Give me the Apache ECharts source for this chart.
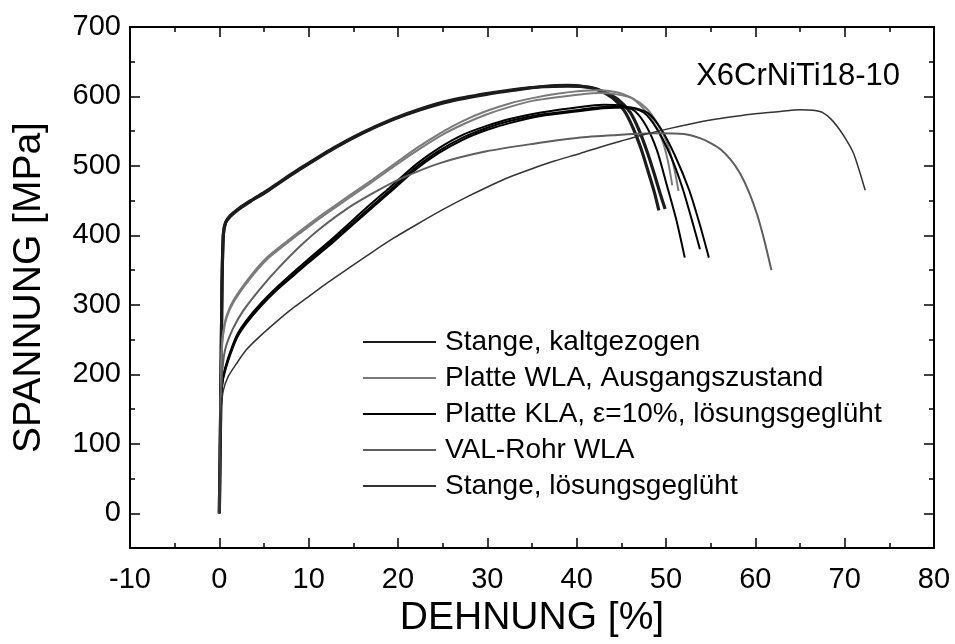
<!DOCTYPE html>
<html>
<head>
<meta charset="utf-8">
<script src="https://cdn.jsdelivr.net/npm/echarts@6/dist/echarts.min.js"></script>
<style>html,body{margin:0;padding:0;background:#fff}#c{width:955px;height:644px}</style>
</head>
<body>
<div id="c"></div>
<script>
// ---- data (strain %, stress MPa) ----
const legendNames = ['Stange, kaltgezogen','Platte WLA, Ausgangszustand','Platte KLA, \u03b5=10%, l\u00f6sungsgegl\u00fcht','VAL-Rohr WLA','Stange, l\u00f6sungsgegl\u00fcht'];
const xTicks = [-10,0,10,20,30,40,50,60,70,80];
const yTicks = [0,100,200,300,400,500,600,700];
const yMinorTicks = [50,150,250,350,450,550,650];
const annotation = 'X6CrNiTi18-10';

const stangeKalt1 = [[0,0],[0.15,150],[0.3,330],[0.45,400],[0.7,418],[1.2,427],[2,436],[3.5,449],[5.3,463],[7,478],[9,495],[12.8,525],[16,547],[19.5,567],[22.5,581],[25.8,593],[29.9,603],[33,609],[36,614],[39,616],[41,614],[42.5,609],[44,598],[45.3,580],[46.3,555],[47.2,525],[48,492],[48.7,462],[49.2,436]];
const stangeKalt2 = [[0,0],[0.15,150],[0.3,330],[0.45,402],[0.7,419],[1.2,428],[2,437],[3.5,450],[5.3,464],[7,479],[9,496],[12.8,526],[16,548],[19.5,568],[22.5,582],[25.8,594],[29.9,604],[33,610],[36,614],[39,615],[41.5,613],[43,607],[44.6,596],[46,577],[47,551],[47.9,520],[48.7,488],[49.4,458],[49.9,438]];
const platteWLA1 = [[0,0],[0.15,150],[0.25,230],[0.4,258],[0.8,284],[1.6,307],[3.4,340],[5.3,368],[8,396],[9,406],[11.5,430],[14.3,455],[17,479],[19.5,502],[22,525],[24.7,547],[27.3,565],[29.9,579],[32.5,590],[35.2,598],[37.8,604],[40.4,608],[42.5,609],[44.5,606],[46,599],[47.3,585],[48.5,565],[49.5,540],[50.2,508],[50.7,472]];
const platteWLA2 = [[0,0],[0.15,150],[0.25,225],[0.4,254],[0.8,281],[1.6,304],[3.4,337],[5.3,365],[8,393],[9,403],[11.5,427],[14.3,452],[17,476],[19.5,499],[22,521],[24.7,543],[27.3,560],[29.9,574],[32.5,585],[35.2,594],[37.8,599],[40.4,603],[42.5,605],[44.5,603],[46.3,597],[47.8,583],[49,562],[50,537],[50.8,503],[51.4,464]];
const platteKLA1 = [[0,0],[0.15,140],[0.3,185],[0.45,199],[1,224],[1.95,256],[3,277],[4.56,301],[6.5,326],[8.3,347],[10,366],[12.8,397],[16.5,440],[19,468],[22.1,503],[24.5,525],[27.3,545],[30,558],[32.6,568],[36,577],[40.4,585],[43,588],[45,587],[46.5,579],[47.8,557],[49,522],[50.1,472],[51.2,420],[52.1,368]];
const platteKLA2 = [[0,0],[0.15,140],[0.3,183],[0.45,197],[1,222],[1.95,254],[3,275],[4.56,299],[6.5,324],[8.3,344],[10,363],[12.8,394],[16.5,436],[19,464],[22.1,499],[24.5,521],[27.3,541],[30,555],[32.6,565],[36,574],[40.4,581],[43,585],[45.5,585],[47.5,577],[49,553],[50.5,515],[51.8,470],[52.9,422],[53.8,380]];
const platteKLA3 = [[0,0],[0.15,140],[0.3,182],[0.45,195],[1,220],[1.95,252],[3,273],[4.56,297],[6.5,322],[8.3,342],[10,361],[12.8,391],[16.5,433],[19,461],[22.1,496],[24.5,518],[27.3,538],[30,552],[32.6,562],[36,572],[40.4,579],[43,583],[46,584],[48,576],[49.5,552],[51,515],[52.6,465],[53.8,415],[54.8,368]];
const valRohr = [[0,0],[0.15,150],[0.3,200],[0.64,235],[1.5,265],[2.7,292],[4.5,322],[6.4,350],[9,384],[11.5,412],[14.6,441],[17.5,463],[20.2,481],[24.7,504],[29.9,521],[35.2,532],[40.4,541],[45,545],[49,547],[52,546],[53.8,540],[55,533],[56.1,524],[57.3,508],[58.3,489],[59.3,462],[60.2,430],[61,393],[61.8,350]];
const stangeLoes = [[0,0],[0.1,100],[0.2,150],[0.45,177],[1.0,197],[1.95,216],[3,235],[4.56,255],[6.5,277],[8.3,296],[9.8,310],[12,331],[14.6,354],[17,375],[19.5,396],[22,415],[25,437],[27.5,454],[29.9,469],[32.5,484],[35,496],[37.5,507],[40.4,518],[42.6,527],[45,536],[47.5,545],[50.1,553],[53,561],[55,566],[57.6,571],[60,575],[62.5,578],[65,581],[66.5,580],[67.5,577],[68.5,567],[69.5,551],[70.3,535],[71,518],[71.6,495],[72.3,465]];

// ---- styles ----
const styles = [
  {color:'#1c1c1c', width:3.2},
  {color:'#7a7a7a', width:2},
  {color:'#000000', width:2},
  {color:'#5e5e5e', width:2},
  {color:'#333333', width:1.5}
];
const curves = [
  [0, stangeKalt1],[0, stangeKalt2],
  [1, platteWLA1],[1, platteWLA2],
  [2, platteKLA1],[2, platteKLA2],[2, platteKLA3],
  [3, valRohr],
  [4, stangeLoes]
];

const FONT = 'Liberation Sans, Arial, sans-serif';
const series = curves.map(([g, d]) => ({
  type:'line', name: legendNames[g], data: d, xAxisIndex:0, yAxisIndex:0,
  showSymbol:false, symbol:'none', smooth:0.25,
  lineStyle:{color:styles[g].color, width:styles[g].width},
  itemStyle:{color:styles[g].color},
  emphasis:{disabled:true}, silent:true, animation:false
}));

const axisLine = {show:true, onZero:false, lineStyle:{color:'#000', width:2}};
const tickStyle = {color:'#000', width:1.5};
const chart = echarts.init(document.getElementById('c'), null, {renderer:'canvas'});
chart.setOption({
  animation:false,
  backgroundColor:'#fff',
  grid: {left:130, right:21, top:27, bottom:96},
  xAxis: [
    {type:'value', position:'bottom', min:-10, max:80, interval:10,
     axisLine: axisLine,
     axisTick:{show:true, inside:true, length:10, lineStyle:tickStyle},
     minorTick:{show:true, splitNumber:2, length:5, lineStyle:tickStyle},
     splitLine:{show:false}, minorSplitLine:{show:false},
     axisLabel:{show:true, margin:17, fontSize:29, color:'#000', fontFamily:FONT,
       customValues: xTicks},
     name:'DEHNUNG [%]', nameLocation:'middle', nameGap:38,
     nameTextStyle:{fontSize:39, color:'#000', fontFamily:FONT}},
    {type:'value', position:'top', min:-10, max:80, interval:10,
     axisLine: axisLine,
     axisTick:{show:true, inside:true, length:10, lineStyle:tickStyle},
     minorTick:{show:true, splitNumber:2, length:5, lineStyle:tickStyle},
     splitLine:{show:false}, axisLabel:{show:false}}
  ],
  yAxis: [
    {type:'value', position:'left', min:-50, max:700,
     axisLine: axisLine,
     axisTick:{show:true, inside:true, length:10, customValues: yTicks, lineStyle:tickStyle},
     splitLine:{show:false},
     axisLabel:{show:true, margin:9, fontSize:29, color:'#000', fontFamily:FONT, customValues: yTicks},
     name:'SPANNUNG [MPa]', nameLocation:'middle', nameGap:81, nameRotate:90,
     nameTextStyle:{fontSize:39, color:'#000', fontFamily:FONT}},
    {type:'value', position:'right', min:-50, max:700,
     axisLine: axisLine,
     axisTick:{show:true, inside:true, length:10, customValues: yTicks, lineStyle:tickStyle},
     splitLine:{show:false}, axisLabel:{show:false}},
    {type:'value', position:'left', min:-50, max:700,
     axisLine:{show:false, onZero:false},
     axisTick:{show:true, inside:true, length:5, customValues: yMinorTicks, lineStyle:tickStyle},
     splitLine:{show:false}, axisLabel:{show:false}},
    {type:'value', position:'right', min:-50, max:700,
     axisLine:{show:false, onZero:false},
     axisTick:{show:true, inside:true, length:5, customValues: yMinorTicks, lineStyle:tickStyle},
     splitLine:{show:false}, axisLabel:{show:false}}
  ],
  legend: {
    show:true, orient:'vertical', left:363, top:328, padding:0,
    data: legendNames, icon:'rect', itemWidth:73, itemHeight:2, itemGap:8,
    selectedMode:false,
    textStyle:{fontSize:28, color:'#000', fontFamily:FONT, lineHeight:28, padding:[0,0,0,4]}
  },
  graphic: [
    {type:'text', right:55, top:61, style:{text:annotation, fontSize:31, fill:'#000', fontFamily:FONT}}
  ],
  series: series
});
</script>
</body>
</html>
